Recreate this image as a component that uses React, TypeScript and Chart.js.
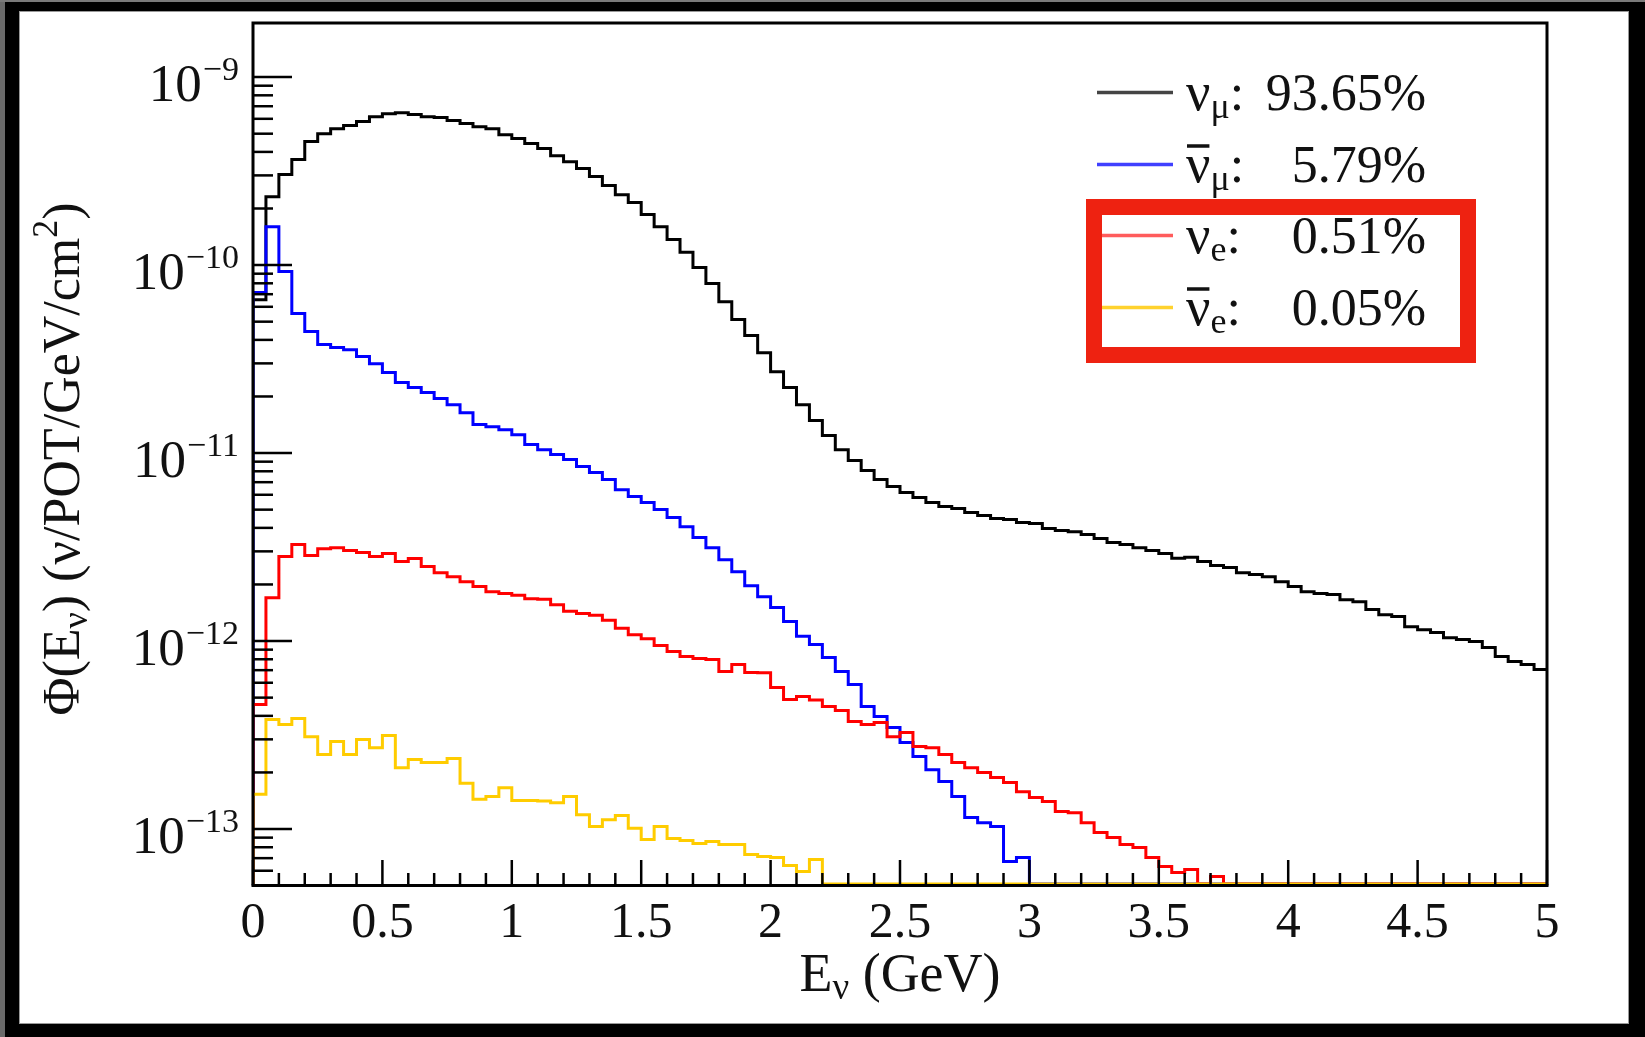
import React, { useEffect, useRef } from 'react';
import { Chart, registerables } from 'chart.js';

Chart.register(...registerables);

// ---------------- data ----------------
const BIN_WIDTH = 0.05;
const N_BINS = 100;
const binLowEdges: number[] = Array.from({ length: N_BINS }, (_, i) => +(i * BIN_WIDTH).toFixed(2));

// nu_mu flux per bin (nu/POT/GeV/cm^2)
const numuFlux = [
  6.55e-11, 2.31e-10, 3.03e-10, 3.64e-10, 4.54e-10, 5.0e-10, 5.32e-10, 5.52e-10, 5.8e-10, 6.16e-10,
  6.39e-10, 6.47e-10, 6.32e-10, 6.16e-10, 6.09e-10, 5.87e-10, 5.66e-10, 5.45e-10, 5.32e-10, 4.94e-10,
  4.71e-10, 4.43e-10, 4.17e-10, 3.82e-10, 3.55e-10, 3.26e-10, 2.96e-10, 2.65e-10, 2.37e-10, 2.15e-10,
  1.86e-10, 1.6e-10, 1.37e-10, 1.17e-10, 9.7e-11, 7.97e-11, 6.39e-11, 5.13e-11, 4.22e-11, 3.42e-11,
  2.71e-11, 2.23e-11, 1.81e-11, 1.49e-11, 1.24e-11, 1.04e-11, 9.12e-12, 8.07e-12, 7.23e-12, 6.64e-12,
  6.17e-12, 5.8e-12, 5.45e-12, 5.19e-12, 5.07e-12, 4.83e-12, 4.65e-12, 4.48e-12, 4.43e-12, 4.27e-12,
  4.22e-12, 3.97e-12, 3.87e-12, 3.82e-12, 3.69e-12, 3.51e-12, 3.34e-12, 3.26e-12, 3.14e-12, 3.03e-12,
  2.92e-12, 2.76e-12, 2.79e-12, 2.65e-12, 2.52e-12, 2.46e-12, 2.31e-12, 2.26e-12, 2.2e-12, 2.07e-12,
  1.95e-12, 1.83e-12, 1.79e-12, 1.77e-12, 1.66e-12, 1.62e-12, 1.47e-12, 1.38e-12, 1.35e-12, 1.19e-12,
  1.15e-12, 1.11e-12, 1.04e-12, 1.02e-12, 9.94e-13, 9.23e-13, 8.27e-13, 7.78e-13, 7.5e-13, 7.05e-13,
];

// anti-nu_mu flux
const numubarFlux = [
  7.14e-11, 1.6e-10, 9.23e-11, 5.52e-11, 4.43e-11, 3.78e-11, 3.64e-11, 3.55e-11, 3.26e-11, 2.99e-11,
  2.68e-11, 2.37e-11, 2.23e-11, 2.1e-11, 1.95e-11, 1.81e-11, 1.64e-11, 1.42e-11, 1.38e-11, 1.33e-11,
  1.25e-11, 1.11e-11, 1.04e-11, 9.82e-12, 9.23e-12, 8.48e-12, 7.88e-12, 7.23e-12, 6.39e-12, 5.87e-12,
  5.45e-12, 5.01e-12, 4.54e-12, 4.06e-12, 3.55e-12, 3.14e-12, 2.71e-12, 2.34e-12, 1.97e-12, 1.72e-12,
  1.51e-12, 1.27e-12, 1.06e-12, 9.58e-13, 8.17e-13, 6.88e-13, 5.87e-13, 4.48e-13, 3.97e-13, 3.47e-13,
  2.89e-13, 2.43e-13, 2.07e-13, 1.79e-13, 1.49e-13, 1.15e-13, 1.08e-13, 1.03e-13, 6.72e-14, 7.05e-14,
  0, 0, 0, 0, 0, 0, 0, 0, 0, 0,
  0, 0, 0, 0, 0, 0, 0, 0, 0, 0,
  0, 0, 0, 0, 0, 0, 0, 0, 0, 0,
  0, 0, 0, 0, 0, 0, 0, 0, 0, 0,
];

// nu_e flux
const nueFlux = [
  4.6e-13, 1.7e-12, 2.82e-12, 3.26e-12, 2.85e-12, 3.1e-12, 3.14e-12, 3.03e-12, 2.96e-12, 2.82e-12,
  2.92e-12, 2.65e-12, 2.75e-12, 2.49e-12, 2.31e-12, 2.2e-12, 2.07e-12, 1.95e-12, 1.83e-12, 1.79e-12,
  1.75e-12, 1.68e-12, 1.67e-12, 1.56e-12, 1.44e-12, 1.4e-12, 1.37e-12, 1.29e-12, 1.17e-12, 1.08e-12,
  1.03e-12, 9.47e-13, 8.79e-13, 8.27e-13, 8.07e-13, 7.97e-13, 6.88e-13, 7.5e-13, 6.8e-13, 6.78e-13,
  5.66e-13, 4.88e-13, 5.07e-13, 4.86e-13, 4.48e-13, 4.27e-13, 3.73e-13, 3.6e-13, 3.69e-13, 3.1e-13,
  3.26e-13, 2.75e-13, 2.71e-13, 2.49e-13, 2.26e-13, 2.12e-13, 2.0e-13, 1.88e-13, 1.77e-13, 1.58e-13,
  1.47e-13, 1.4e-13, 1.24e-13, 1.22e-13, 1.08e-13, 9.58e-14, 9.01e-14, 8.27e-14, 7.97e-14, 7.05e-14,
  6.32e-14, 5.87e-14, 6.09e-14, 0, 5.59e-14, 0, 0, 0, 0, 0,
  0, 0, 0, 0, 0, 0, 0, 0, 0, 0,
  0, 0, 0, 0, 0, 0, 0, 0, 0, 0,
];

// anti-nu_e flux
const nuebarFlux = [
  1.53e-13, 3.82e-13, 3.6e-13, 3.87e-13, 3.1e-13, 2.49e-13, 2.92e-13, 2.49e-13, 2.99e-13, 2.71e-13,
  3.14e-13, 2.12e-13, 2.34e-13, 2.26e-13, 2.26e-13, 2.37e-13, 1.75e-13, 1.44e-13, 1.49e-13, 1.66e-13,
  1.42e-13, 1.42e-13, 1.41e-13, 1.38e-13, 1.49e-13, 1.19e-13, 1.03e-13, 1.12e-13, 1.18e-13, 1.01e-13,
  8.79e-14, 1.03e-13, 8.9e-14, 8.69e-14, 8.38e-14, 8.58e-14, 8.27e-14, 8.27e-14, 7.32e-14, 7.14e-14,
  7.05e-14, 6.39e-14, 5.94e-14, 6.88e-14, 0, 0, 0, 0, 0, 0,
  0, 0, 0, 0, 0, 0, 0, 0, 0, 0,
  0, 0, 0, 0, 0, 0, 0, 0, 0, 0,
  0, 0, 0, 0, 0, 0, 0, 0, 0, 0,
  0, 0, 0, 0, 0, 0, 0, 0, 0, 0,
  0, 0, 0, 0, 0, 0, 0, 0, 0, 0,
];

const seriesColors = ['#000000', '#0000ff', '#ff0000', '#ffcc00'];
const legendLineColors = ['#444444', '#4040ff', '#ff5c5c', '#ffd22e'];
const legendSubs = ['μ', 'μ', 'e', 'e'];
const legendBar = [false, true, false, true];
const legendPercents = ['93.65%', '5.79%', '0.51%', '0.05%'];

const xMajorTicks = [0, 0.5, 1, 1.5, 2, 2.5, 3, 3.5, 4, 4.5, 5];
const xTickLabels = ['0', '0.5', '1', '1.5', '2', '2.5', '3', '3.5', '4', '4.5', '5'];
const xMinorStep = 0.1;
const yDecadeExps = [-13, -12, -11, -10, -9];

const X_MIN = 0;
const X_MAX = 5;
const Y_MIN = 5.1e-14;
const Y_MAX = 1.94e-9;

// ---------------- drawing helpers ----------------
const FONT = '"Liberation Serif", "Times New Roman", Times, serif';
type Part = { text: string; size: number; dy: number };

function partsWidth(ctx: CanvasRenderingContext2D, parts: Part[]) {
  let w = 0;
  for (const p of parts) {
    ctx.font = `${p.size}px ${FONT}`;
    w += ctx.measureText(p.text).width;
  }
  return w;
}
function drawParts(ctx: CanvasRenderingContext2D, parts: Part[], x: number, y: number) {
  let cx = x;
  const pos: number[] = [];
  for (const p of parts) {
    ctx.font = `${p.size}px ${FONT}`;
    pos.push(cx);
    ctx.fillText(p.text, cx, y + p.dy);
    cx += ctx.measureText(p.text).width;
  }
  pos.push(cx);
  return pos;
}

function histPoints(values: number[]) {
  const pts: { x: number; y: number }[] = [{ x: binLowEdges[0], y: Y_MIN }];
  values.forEach((v, i) => pts.push({ x: binLowEdges[i], y: v > 0 ? v : Y_MIN }));
  const last = values[values.length - 1];
  pts.push({ x: X_MAX, y: last > 0 ? last : Y_MIN });
  return pts;
}

const rootStylePlugin = {
  id: 'rootStyle',
  afterDatasetsDraw(chart: any) {
    const { ctx, chartArea: a } = chart;
    const xs = chart.scales.x;
    const ys = chart.scales.y;
    ctx.save();
    ctx.strokeStyle = '#000';
    ctx.fillStyle = '#111';
    ctx.lineCap = 'butt';

    // frame (bottom line slightly below so that bins at the floor stay visible)
    ctx.lineWidth = 3;
    ctx.beginPath();
    ctx.moveTo(a.left, a.bottom + 1.5);
    ctx.lineTo(a.left, a.top);
    ctx.lineTo(a.right, a.top);
    ctx.lineTo(a.right, a.bottom + 1.5);
    ctx.stroke();
    ctx.beginPath();
    ctx.moveTo(a.left - 1.5, a.bottom + 1.5);
    ctx.lineTo(a.right + 1.5, a.bottom + 1.5);
    ctx.stroke();

    // x ticks (inward)
    ctx.lineWidth = 2.5;
    const nMinor = Math.round((X_MAX - X_MIN) / xMinorStep);
    for (let i = 0; i <= nMinor; i++) {
      const v = X_MIN + i * xMinorStep;
      const major = xMajorTicks.some((t) => Math.abs(t - v) < 1e-6);
      const px = xs.getPixelForValue(v);
      ctx.beginPath();
      ctx.moveTo(px, a.bottom);
      ctx.lineTo(px, a.bottom - (major ? 24 : 11));
      ctx.stroke();
    }
    // y ticks (inward)
    for (let e = -14; e <= -9; e++) {
      for (let m = 1; m <= 9; m++) {
        const v = m * Math.pow(10, e);
        if (v < Y_MIN || v > Y_MAX) continue;
        const py = ys.getPixelForValue(v);
        ctx.beginPath();
        ctx.moveTo(a.left, py);
        ctx.lineTo(a.left + (m === 1 ? 39 : 20), py);
        ctx.stroke();
      }
    }

    // x tick labels
    ctx.textBaseline = 'alphabetic';
    ctx.textAlign = 'center';
    ctx.font = `50px ${FONT}`;
    xMajorTicks.forEach((t, i) => {
      ctx.fillText(xTickLabels[i], xs.getPixelForValue(t), 937);
    });

    // y tick labels 10^e
    ctx.textAlign = 'left';
    yDecadeExps.forEach((e) => {
      const py = ys.getPixelForValue(Math.pow(10, e));
      const sup = '\u2212' + Math.abs(e);
      ctx.font = `34px ${FONT}`;
      const sw = ctx.measureText(sup).width;
      ctx.font = `53px ${FONT}`;
      const bw = ctx.measureText('10').width;
      const right = 239;
      ctx.fillText('10', right - sw - bw - 1, py + 24);
      ctx.font = `34px ${FONT}`;
      ctx.fillText(sup, right - sw, py + 3);
    });

    // x title
    const xt: Part[] = [
      { text: 'E', size: 54, dy: 0 },
      { text: 'ν', size: 37, dy: 8 },
      { text: ' (GeV)', size: 54, dy: 0 },
    ];
    const xtw = partsWidth(ctx, xt);
    drawParts(ctx, xt, (a.left + a.right) / 2 - xtw / 2, 991);

    // y title (rotated)
    const yt: Part[] = [
      { text: 'Φ(E', size: 52, dy: 0 },
      { text: 'ν', size: 36, dy: 8 },
      { text: ') (ν/POT/GeV/cm', size: 52, dy: 0 },
      { text: '2', size: 36, dy: -22 },
      { text: ')', size: 52, dy: 0 },
    ];
    ctx.save();
    ctx.translate(79, 459);
    ctx.rotate(-Math.PI / 2);
    const ytw = partsWidth(ctx, yt);
    drawParts(ctx, yt, -ytw / 2, 0);
    ctx.restore();

    // legend
    const rowBase = [110, 182, 253, 325];
    legendPercents.forEach((pct, i) => {
      const b = rowBase[i];
      ctx.strokeStyle = legendLineColors[i];
      ctx.lineWidth = 3.5;
      ctx.beginPath();
      ctx.moveTo(1097, b - 17.5);
      ctx.lineTo(1173, b - 17.5);
      ctx.stroke();
      ctx.fillStyle = '#111';
      const pos = drawParts(
        ctx,
        [
          { text: 'ν', size: 54, dy: 0 },
          { text: legendSubs[i], size: 36, dy: 8 },
          { text: ':', size: 52, dy: 0 },
        ],
        1186,
        b
      );
      if (legendBar[i]) {
        ctx.strokeStyle = '#111';
        ctx.lineWidth = 3.5;
        ctx.beginPath();
        ctx.moveTo(pos[0] + 1, b - 36);
        ctx.lineTo(pos[1] - 1, b - 36);
        ctx.stroke();
      }
      ctx.font = `52px ${FONT}`;
      ctx.textAlign = 'right';
      ctx.fillText(pct, 1426, b);
      ctx.textAlign = 'left';
    });

    // red highlight box
    ctx.strokeStyle = '#ee2211';
    ctx.lineWidth = 16;
    ctx.strokeRect(1094, 207, 374, 148);

    ctx.restore();
  },
};

export default function App() {
  const canvasRef = useRef<HTMLCanvasElement | null>(null);

  useEffect(() => {
    const canvas = canvasRef.current;
    if (!canvas) return;
    const series = [numuFlux, numubarFlux, nueFlux, nuebarFlux];
    const chart = new Chart(canvas, {
      type: 'line',
      data: {
        datasets: series.map((vals, i) => ({
          data: histPoints(vals),
          borderColor: seriesColors[i],
          backgroundColor: seriesColors[i],
          borderWidth: 3,
          stepped: true,
          pointRadius: 0,
          fill: false,
          tension: 0,
          order: 4 - i,
          clip: 0,
        })),
      },
      options: {
        animation: false,
        responsive: false,
        maintainAspectRatio: false,
        layout: { padding: { left: 253, right: 1645 - 1547, top: 23, bottom: 1037 - 884 } },
        plugins: { legend: { display: false }, tooltip: { enabled: false } },
        scales: {
          x: {
            type: 'linear',
            min: X_MIN,
            max: X_MAX,
            grid: { display: false },
            border: { display: false },
            ticks: { display: false },
            afterFit: (s: any) => {
              s.height = 0;
            },
          },
          y: {
            type: 'logarithmic',
            min: Y_MIN,
            max: Y_MAX,
            grid: { display: false },
            border: { display: false },
            ticks: { display: false },
            afterFit: (s: any) => {
              s.width = 0;
            },
          },
        },
      } as any,
      plugins: [rootStylePlugin],
    });
    let alive = true;
    if ((document as any).fonts?.load) {
      (document as any).fonts
        .load(`48px "Liberation Serif"`)
        .then(() => {
          if (alive) chart.draw();
        })
        .catch(() => {});
    }
    return () => {
      alive = false;
      chart.destroy();
    };
  }, []);

  return (
    <div style={{ position: 'fixed', left: 0, top: 0, width: 1645, height: 1037, background: '#000', overflow: 'hidden' }}>
      <div style={{ position: 'absolute', left: 0, top: 0, width: 5, height: 1037, background: '#6a6a6a' }} />
      <div style={{ position: 'absolute', left: 0, top: 0, width: 1645, height: 2, background: '#7a7a7a' }} />
      <div
        style={{
          position: 'absolute',
          left: 19,
          top: 11,
          width: 1629 - 19,
          height: 1024 - 11,
          background: '#fff',
          boxShadow: 'inset 0 0 0 1px #999',
        }}
      />
      <canvas ref={canvasRef} width={1645} height={1037} style={{ position: 'absolute', left: 0, top: 0, width: 1645, height: 1037 }} />
    </div>
  );
}
